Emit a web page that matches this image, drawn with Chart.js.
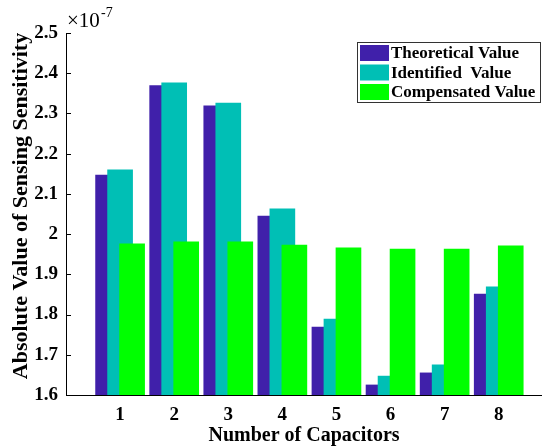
<!DOCTYPE html>
<html>
<head>
<meta charset="utf-8">
<script src="https://cdn.jsdelivr.net/npm/chart.js@4/dist/chart.umd.min.js"></script>
<style>
	html, body { margin: 0; padding: 0; background: #fff; }
	#wrap { width: 542px; height: 448px; position: relative; }
</style>
</head>
<body>
<div id="wrap"><canvas id="sensitivity-chart"></canvas></div>
<script>
var categories = ['1', '2', '3', '4', '5', '6', '7', '8'];
var seriesLabels = ['Theoretical Value', 'Identified  Value', 'Compensated Value'];
var theoretical = [2.147, 2.369, 2.319, 2.045, 1.769, 1.625, 1.655, 1.851];
var identified = [2.160, 2.376, 2.326, 2.063, 1.789, 1.647, 1.675, 1.869];
var compensated = [1.976, 1.981, 1.981, 1.973, 1.966, 1.963, 1.963, 1.971];
var yTicks = [1.6, 1.7, 1.8, 1.9, 2, 2.1, 2.2, 2.3, 2.4, 2.5];
var yTitle = 'Absolute Value of Sensing Sensitivity';

var colors = ['#4020aa', '#00bfb5', '#00ff00'];
var serif = "'Liberation Serif', 'Times New Roman', serif";

// bars overlap each other, shifted by a fraction of a category
var shift = 0.222;

function toPoints(values, offset) {
	return values.map(function(v, i) {
		return {x: i + 1 + offset, y: v};
	});
}

var datasets = [theoretical, identified, compensated].map(function(values, i) {
	return {
		label: seriesLabels[i],
		data: toPoints(values, (i - 1) * shift),
		backgroundColor: colors[i],
		borderWidth: 0,
		barThickness: 25,
		grouped: false,
		base: 1.6,
		// green drawn on top, then teal, then blue
		order: 3 - i
	};
});

var decorations = {
	id: 'decorations',
	afterDraw: function(chart) {
		var ctx = chart.ctx,
			area = chart.chartArea,
			yScale = chart.scales.y;

		ctx.save();

		// inward tick marks on the y axis
		ctx.strokeStyle = '#000';
		ctx.lineWidth = 1;
		yTicks.forEach(function(t) {
			var y = Math.round(yScale.getPixelForValue(t)) + 0.5;
			ctx.beginPath();
			ctx.moveTo(area.left, y);
			ctx.lineTo(area.left + 5, y);
			ctx.stroke();
		});

		// y axis title, sits a bit above the middle of the axis
		ctx.fillStyle = '#000';
		ctx.save();
		ctx.translate(21, 206);
		ctx.rotate(-Math.PI / 2);
		ctx.textAlign = 'center';
		ctx.textBaseline = 'middle';
		ctx.font = 'bold 22px ' + serif;
		ctx.fillText(yTitle, 0, 0);
		ctx.restore();

		// exponent label
		ctx.textBaseline = 'alphabetic';
		ctx.textAlign = 'left';
		ctx.font = '21px ' + serif;
		ctx.fillText('\u00d710', 67, 27);
		ctx.font = '14px ' + serif;
		ctx.fillText('-7', 101, 17);

		// legend box
		var boxX = 357, boxY = 42, boxW = 183, boxH = 60;
		ctx.fillStyle = '#fff';
		ctx.fillRect(boxX, boxY, boxW, boxH);
		ctx.strokeStyle = '#333';
		ctx.strokeRect(boxX + 0.5, boxY + 0.5, boxW, boxH);

		ctx.font = 'bold 17px ' + serif;
		ctx.textBaseline = 'middle';
		for (var i = 0; i < seriesLabels.length; i++) {
			var rowY = 53 + i * 19.5;
			ctx.fillStyle = colors[i];
			ctx.fillRect(360, rowY - 8, 29, 16);
			ctx.fillStyle = '#000';
			ctx.fillText(seriesLabels[i], 391, rowY + 1);
		}

		ctx.restore();
	}
};

new Chart(document.getElementById('sensitivity-chart'), {
	type: 'bar',
	data: {
		datasets: datasets
	},
	options: {
		responsive: true,
		maintainAspectRatio: false,
		animation: false,
		layout: {
			padding: {top: 33, right: 0, left: 0, bottom: 0}
		},
		plugins: {
			legend: {display: false},
			tooltip: {enabled: false}
		},
		scales: {
			x: {
				type: 'linear',
				min: 0,
				max: 8.8,
				offset: false,
				grid: {display: false, drawTicks: false},
				border: {display: true, color: '#000', width: 1},
				afterBuildTicks: function(scale) {
					scale.ticks = categories.map(function(c, i) {
						return {value: i + 1};
					});
				},
				afterFit: function(scale) {
					scale.height = 53;
				},
				ticks: {
					color: '#000',
					padding: 9,
					autoSkip: false,
					maxRotation: 0,
					font: {family: serif, size: 19, weight: 'bold'},
					callback: function(value) {
						return categories[value - 1];
					}
				},
				title: {
					display: true,
					text: 'Number of Capacitors',
					color: '#000',
					padding: {top: 0, bottom: 0},
					font: {family: serif, size: 20, weight: 'bold'}
				}
			},
			y: {
				min: 1.6,
				max: 2.5,
				grid: {display: false, drawTicks: false},
				border: {display: true, color: '#000', width: 1},
				afterBuildTicks: function(scale) {
					scale.ticks = yTicks.map(function(t) {
						return {value: t};
					});
				},
				afterFit: function(scale) {
					scale.width = 66;
				},
				ticks: {
					color: '#000',
					padding: 8,
					font: {family: serif, size: 19, weight: 'bold'},
					callback: function(value) {
						return String(Math.round(value * 10) / 10);
					}
				}
			}
		}
	},
	plugins: [decorations]
});
</script>
</body>
</html>
